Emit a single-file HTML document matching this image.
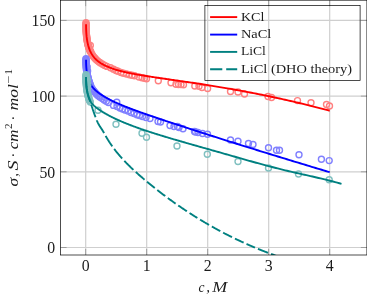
<!DOCTYPE html>
<html><head><meta charset="utf-8"><title>plot</title>
<style>
html,body{margin:0;padding:0;background:#fff;}
body{width:367px;height:300px;position:relative;overflow:hidden;font-family:"Liberation Serif",serif;}
.t{font-family:"Liberation Serif",serif;fill:#1c1c1c;}
</style></head><body>
<svg width="367" height="300" viewBox="0 0 367 300" style="position:absolute;left:0;top:0;will-change:transform;opacity:0.999">
<defs><clipPath id="cp"><rect x="60.6" y="0.2" width="306.3" height="254.8"/></clipPath></defs>
<path d="M85.70,0.2 V255.0 M146.70,0.2 V255.0 M207.70,0.2 V255.0 M268.70,0.2 V255.0 M329.70,0.2 V255.0 M60.6,247.50 H366.9 M60.6,171.80 H366.9 M60.6,96.10 H366.9 M60.6,20.40 H366.9" stroke="#cfcfcf" stroke-width="1.2" fill="none"/>
<path d="M85.70,255.0 v-6 M85.70,0.2 v6 M146.70,255.0 v-6 M146.70,0.2 v6 M207.70,255.0 v-6 M207.70,0.2 v6 M268.70,255.0 v-6 M268.70,0.2 v6 M329.70,255.0 v-6 M329.70,0.2 v6 M60.6,247.50 h6 M366.9,247.50 h-6 M60.6,171.80 h6 M366.9,171.80 h-6 M60.6,96.10 h6 M366.9,96.10 h-6 M60.6,20.40 h6 M366.9,20.40 h-6" stroke="#666" stroke-width="0.5" fill="none"/>
<g clip-path="url(#cp)">
<g fill="none" stroke="#ff8080" stroke-width="1.4">
<circle cx="86.0" cy="22.8" r="3"/><circle cx="86.0" cy="23.6" r="3"/><circle cx="86.1" cy="24.4" r="3"/><circle cx="86.1" cy="25.2" r="3"/><circle cx="86.1" cy="26.0" r="3"/><circle cx="86.1" cy="26.8" r="3"/><circle cx="86.1" cy="27.6" r="3"/><circle cx="86.1" cy="28.4" r="3"/><circle cx="86.1" cy="29.2" r="3"/><circle cx="86.2" cy="30.0" r="3"/><circle cx="86.2" cy="30.8" r="3"/><circle cx="86.2" cy="31.6" r="3"/><circle cx="86.3" cy="32.4" r="3"/><circle cx="86.3" cy="33.2" r="3"/><circle cx="86.4" cy="34.0" r="3"/><circle cx="86.5" cy="34.8" r="3"/><circle cx="86.5" cy="35.6" r="3"/><circle cx="86.6" cy="36.4" r="3"/><circle cx="86.7" cy="37.2" r="3"/><circle cx="86.8" cy="38.0" r="3"/><circle cx="86.9" cy="38.8" r="3"/><circle cx="87.0" cy="39.6" r="3"/><circle cx="87.1" cy="40.4" r="3"/><circle cx="87.3" cy="41.1" r="3"/><circle cx="87.4" cy="41.9" r="3"/><circle cx="87.6" cy="42.7" r="3"/><circle cx="87.7" cy="43.5" r="3"/><circle cx="87.9" cy="44.3" r="3"/><circle cx="88.1" cy="45.1" r="3"/><circle cx="88.3" cy="45.8" r="3"/><circle cx="88.5" cy="46.6" r="3"/><circle cx="88.8" cy="47.4" r="3"/><circle cx="89.0" cy="48.1" r="3"/><circle cx="89.3" cy="48.9" r="3"/><circle cx="89.6" cy="49.6" r="3"/><circle cx="89.9" cy="50.4" r="3"/><circle cx="90.2" cy="51.1" r="3"/><circle cx="90.9" cy="52.5" r="3"/><circle cx="91.6" cy="53.9" r="3"/><circle cx="92.5" cy="55.3" r="3"/><circle cx="93.4" cy="56.6" r="3"/><circle cx="94.5" cy="57.8" r="3"/><circle cx="95.6" cy="59.0" r="3"/><circle cx="96.7" cy="60.1" r="3"/><circle cx="97.9" cy="61.1" r="3"/><circle cx="99.2" cy="62.1" r="3"/><circle cx="100.5" cy="63.0" r="3"/><circle cx="102.6" cy="64.2" r="3"/><circle cx="104.7" cy="65.4" r="3"/><circle cx="106.9" cy="66.4" r="3"/><circle cx="90.3" cy="45.4" r="3"/><circle cx="90.6" cy="51.5" r="3"/><circle cx="110.5" cy="67.8" r="3"/><circle cx="113.5" cy="69.3" r="3"/><circle cx="116.0" cy="70.5" r="3"/><circle cx="118.0" cy="71.3" r="3"/><circle cx="121.0" cy="72.5" r="3"/><circle cx="123.5" cy="73.3" r="3"/><circle cx="126.5" cy="74.0" r="3"/><circle cx="129.5" cy="74.8" r="3"/><circle cx="132.0" cy="75.3" r="3"/><circle cx="134.5" cy="75.8" r="3"/><circle cx="139.0" cy="77.0" r="3"/><circle cx="142.0" cy="77.8" r="3"/><circle cx="144.5" cy="78.3" r="3"/><circle cx="146.5" cy="78.8" r="3"/><circle cx="158.3" cy="80.8" r="3"/><circle cx="171.0" cy="82.7" r="3"/><circle cx="176.0" cy="84.3" r="3"/><circle cx="178.5" cy="84.5" r="3"/><circle cx="181.0" cy="84.6" r="3"/><circle cx="183.5" cy="84.8" r="3"/><circle cx="194.8" cy="86.0" r="3"/><circle cx="199.0" cy="86.3" r="3"/><circle cx="202.0" cy="87.5" r="3"/><circle cx="207.6" cy="88.5" r="3"/><circle cx="230.5" cy="91.5" r="3"/><circle cx="238.0" cy="92.0" r="3"/><circle cx="244.5" cy="94.0" r="3"/><circle cx="268.0" cy="96.5" r="3"/><circle cx="271.5" cy="97.5" r="3"/><circle cx="297.5" cy="100.6" r="3"/><circle cx="311.0" cy="102.7" r="3"/><circle cx="326.5" cy="104.5" r="3"/><circle cx="329.5" cy="106.0" r="3"/>
</g>
<path d="M86.05,24.31 L86.05,25.48 L86.07,26.64 L86.09,27.77 L86.12,28.87 L86.16,29.95 L86.20,31.01 L86.26,32.05 L86.32,33.06 L86.40,34.06 L86.48,35.03 L86.57,35.98 L86.66,36.91 L86.77,37.82 L86.89,38.70 L87.01,39.57 L87.14,40.42 L87.28,41.25 L87.43,42.06 L87.59,42.86 L87.76,43.63 L87.93,44.39 L88.11,45.13 L88.31,45.85 L88.51,46.56 L88.72,47.25 L88.93,47.92 L89.16,48.58 L89.39,49.22 L89.64,49.84 L89.89,50.45 L90.15,51.05 L90.42,51.63 L90.70,52.20 L90.98,52.76 L91.28,53.30 L91.58,53.83 L91.89,54.35 L92.21,54.85 L92.54,55.34 L92.87,55.82 L93.22,56.29 L93.57,56.75 L93.94,57.20 L94.31,57.64 L94.69,58.07 L95.08,58.49 L95.47,58.89 L95.88,59.30 L96.29,59.69 L96.71,60.07 L97.14,60.45 L97.58,60.81 L98.03,61.18 L98.49,61.53 L98.95,61.88 L99.43,62.22 L99.91,62.55 L100.40,62.88 L100.90,63.21 L101.41,63.53 L101.92,63.84 L102.45,64.15 L102.98,64.45 L103.52,64.75 L104.07,65.04 L104.63,65.33 L105.20,65.61 L105.77,65.89 L106.36,66.17 L106.95,66.44 L107.55,66.70 L108.16,66.96 L108.78,67.22 L109.41,67.47 L110.04,67.72 L110.69,67.97 L111.34,68.21 L112.00,68.44 L112.67,68.68 L113.35,68.91 L114.04,69.13 L114.73,69.36 L115.44,69.58 L116.15,69.79 L116.87,70.01 L117.60,70.22 L118.34,70.42 L119.08,70.63 L119.84,70.83 L120.60,71.03 L121.37,71.23 L122.15,71.42 L122.94,71.61 L123.74,71.80 L124.55,71.99 L125.36,72.17 L126.18,72.36 L127.02,72.54 L127.86,72.72 L128.71,72.89 L129.56,73.07 L130.43,73.24 L131.30,73.41 L132.19,73.58 L133.08,73.75 L133.98,73.92 L134.89,74.09 L135.80,74.25 L136.73,74.42 L137.66,74.58 L138.61,74.75 L139.56,74.91 L140.52,75.07 L141.48,75.23 L142.46,75.39 L143.45,75.55 L144.44,75.71 L145.44,75.87 L146.45,76.03 L147.47,76.19 L148.50,76.35 L149.54,76.52 L150.58,76.68 L151.64,76.84 L152.70,77.00 L153.77,77.16 L154.85,77.32 L155.94,77.48 L157.03,77.64 L158.14,77.81 L159.25,77.97 L160.37,78.13 L161.50,78.30 L162.64,78.47 L163.79,78.63 L164.94,78.80 L166.11,78.97 L167.28,79.14 L168.46,79.31 L169.65,79.48 L170.85,79.65 L172.06,79.82 L173.28,80.00 L174.50,80.18 L175.73,80.35 L176.97,80.53 L178.22,80.71 L179.48,80.89 L180.75,81.08 L182.02,81.26 L183.31,81.45 L184.60,81.64 L185.90,81.83 L187.21,82.02 L188.53,82.21 L189.86,82.41 L191.19,82.61 L192.53,82.81 L193.89,83.01 L195.25,83.21 L196.62,83.42 L197.99,83.63 L199.38,83.84 L200.78,84.05 L202.18,84.27 L203.59,84.49 L205.01,84.71 L206.44,84.93 L207.88,85.16 L209.32,85.39 L210.78,85.62 L212.24,85.85 L213.71,86.09 L215.19,86.33 L216.68,86.57 L218.18,86.82 L219.68,87.07 L221.20,87.32 L222.72,87.58 L224.25,87.83 L225.79,88.10 L227.34,88.36 L228.90,88.63 L230.46,88.90 L232.04,89.18 L233.62,89.46 L235.21,89.74 L236.81,90.03 L238.42,90.32 L240.03,90.61 L241.66,90.91 L243.29,91.21 L244.94,91.51 L246.59,91.82 L248.25,92.14 L249.91,92.46 L251.59,92.78 L253.27,93.10 L254.97,93.43 L256.67,93.77 L258.38,94.11 L260.10,94.45 L261.83,94.80 L263.56,95.15 L265.31,95.51 L267.06,95.87 L268.82,96.23 L270.59,96.61 L272.37,96.98 L274.16,97.36 L275.95,97.75 L277.76,98.14 L279.57,98.53 L281.39,98.93 L283.22,99.34 L285.06,99.75 L286.91,100.17 L288.76,100.59 L290.63,101.01 L292.50,101.45 L294.38,101.88 L296.27,102.33 L298.17,102.77 L300.08,103.23 L301.99,103.69 L303.92,104.15 L305.85,104.63 L307.79,105.10 L309.74,105.59 L311.70,106.07 L313.66,106.57 L315.64,107.07 L317.62,107.58 L319.61,108.09 L321.61,108.61 L323.62,109.13 L325.64,109.67 L327.67,110.20 L329.70,110.75" stroke="#ff0000" stroke-width="1.9" fill="none" stroke-linejoin="round"/>
<g fill="none" stroke="#8080ff" stroke-width="1.4">
<circle cx="86.0" cy="58.7" r="3"/><circle cx="86.0" cy="59.5" r="3"/><circle cx="86.1" cy="60.3" r="3"/><circle cx="86.1" cy="61.1" r="3"/><circle cx="86.1" cy="61.9" r="3"/><circle cx="86.1" cy="62.7" r="3"/><circle cx="86.1" cy="63.5" r="3"/><circle cx="86.1" cy="64.3" r="3"/><circle cx="86.2" cy="65.1" r="3"/><circle cx="86.2" cy="65.9" r="3"/><circle cx="86.3" cy="66.7" r="3"/><circle cx="86.3" cy="67.5" r="3"/><circle cx="86.4" cy="68.3" r="3"/><circle cx="86.4" cy="69.1" r="3"/><circle cx="86.5" cy="69.9" r="3"/><circle cx="86.6" cy="70.7" r="3"/><circle cx="86.7" cy="71.5" r="3"/><circle cx="86.8" cy="72.3" r="3"/><circle cx="87.0" cy="73.1" r="3"/><circle cx="87.1" cy="73.9" r="3"/><circle cx="87.2" cy="74.6" r="3"/><circle cx="87.4" cy="75.4" r="3"/><circle cx="87.6" cy="76.2" r="3"/><circle cx="87.8" cy="77.0" r="3"/><circle cx="88.0" cy="77.7" r="3"/><circle cx="88.2" cy="78.6" r="3"/><circle cx="88.4" cy="79.5" r="3"/><circle cx="88.7" cy="80.4" r="3"/><circle cx="89.0" cy="81.3" r="3"/><circle cx="89.3" cy="82.2" r="3"/><circle cx="89.6" cy="83.1" r="3"/><circle cx="90.0" cy="84.0" r="3"/><circle cx="90.3" cy="84.9" r="3"/><circle cx="91.1" cy="86.6" r="3"/><circle cx="92.0" cy="88.4" r="3"/><circle cx="93.0" cy="89.9" r="3"/><circle cx="94.1" cy="91.3" r="3"/><circle cx="95.2" cy="92.6" r="3"/><circle cx="96.4" cy="93.9" r="3"/><circle cx="97.6" cy="95.2" r="3"/><circle cx="98.9" cy="96.3" r="3"/><circle cx="100.2" cy="97.3" r="3"/><circle cx="102.2" cy="98.6" r="3"/><circle cx="104.2" cy="100.0" r="3"/><circle cx="106.3" cy="101.2" r="3"/><circle cx="108.4" cy="102.5" r="3"/><circle cx="87.2" cy="67.0" r="3"/><circle cx="87.6" cy="71.0" r="3"/><circle cx="116.8" cy="102.2" r="3"/><circle cx="113.5" cy="105.4" r="3"/><circle cx="117.0" cy="106.5" r="3"/><circle cx="120.0" cy="108.0" r="3"/><circle cx="122.5" cy="109.0" r="3"/><circle cx="125.0" cy="110.0" r="3"/><circle cx="128.0" cy="111.0" r="3"/><circle cx="131.0" cy="112.5" r="3"/><circle cx="134.0" cy="113.5" r="3"/><circle cx="137.0" cy="114.8" r="3"/><circle cx="139.5" cy="115.5" r="3"/><circle cx="142.5" cy="116.5" r="3"/><circle cx="146.0" cy="117.5" r="3"/><circle cx="150.0" cy="118.5" r="3"/><circle cx="158.0" cy="121.5" r="3"/><circle cx="160.5" cy="122.0" r="3"/><circle cx="170.0" cy="125.5" r="3"/><circle cx="174.0" cy="126.5" r="3"/><circle cx="177.5" cy="126.5" r="3"/><circle cx="179.0" cy="127.5" r="3"/><circle cx="183.0" cy="128.8" r="3"/><circle cx="194.5" cy="131.5" r="3"/><circle cx="195.5" cy="132.0" r="3"/><circle cx="198.0" cy="132.5" r="3"/><circle cx="202.5" cy="133.5" r="3"/><circle cx="207.5" cy="134.2" r="3"/><circle cx="230.5" cy="140.0" r="3"/><circle cx="238.0" cy="141.3" r="3"/><circle cx="248.5" cy="143.5" r="3"/><circle cx="253.0" cy="144.5" r="3"/><circle cx="268.5" cy="147.8" r="3"/><circle cx="276.5" cy="150.3" r="3"/><circle cx="279.5" cy="150.3" r="3"/><circle cx="299.0" cy="154.7" r="3"/><circle cx="321.4" cy="159.3" r="3"/><circle cx="329.2" cy="160.6" r="3"/>
</g>
<path d="M86.05,59.81 L86.05,60.87 L86.07,61.91 L86.09,62.92 L86.12,63.91 L86.16,64.88 L86.20,65.83 L86.26,66.75 L86.32,67.65 L86.40,68.54 L86.48,69.39 L86.57,70.23 L86.66,71.05 L86.77,71.85 L86.89,72.63 L87.01,73.39 L87.14,74.14 L87.28,74.86 L87.43,75.57 L87.59,76.26 L87.76,76.93 L87.93,77.59 L88.11,78.23 L88.31,78.86 L88.51,79.47 L88.72,80.06 L88.93,80.64 L89.16,81.21 L89.39,81.76 L89.64,82.30 L89.89,82.83 L90.15,83.35 L90.42,83.85 L90.70,84.34 L90.98,84.83 L91.28,85.30 L91.58,85.76 L91.89,86.21 L92.21,86.65 L92.54,87.08 L92.87,87.50 L93.22,87.92 L93.57,88.33 L93.94,88.73 L94.31,89.12 L94.69,89.51 L95.08,89.89 L95.47,90.26 L95.88,90.63 L96.29,91.00 L96.71,91.36 L97.14,91.71 L97.58,92.06 L98.03,92.41 L98.49,92.76 L98.95,93.10 L99.43,93.45 L99.91,93.79 L100.40,94.12 L100.90,94.46 L101.41,94.80 L101.92,95.13 L102.45,95.47 L102.98,95.80 L103.52,96.14 L104.07,96.47 L104.63,96.80 L105.20,97.13 L105.77,97.46 L106.36,97.79 L106.95,98.12 L107.55,98.45 L108.16,98.77 L108.78,99.10 L109.41,99.43 L110.04,99.75 L110.69,100.08 L111.34,100.40 L112.00,100.73 L112.67,101.05 L113.35,101.38 L114.04,101.70 L114.73,102.03 L115.44,102.35 L116.15,102.68 L116.87,103.00 L117.60,103.33 L118.34,103.65 L119.08,103.98 L119.84,104.30 L120.60,104.63 L121.37,104.95 L122.15,105.28 L122.94,105.61 L123.74,105.93 L124.55,106.26 L125.36,106.59 L126.18,106.92 L127.02,107.25 L127.86,107.58 L128.71,107.91 L129.56,108.24 L130.43,108.57 L131.30,108.90 L132.19,109.24 L133.08,109.57 L133.98,109.91 L134.89,110.24 L135.80,110.58 L136.73,110.92 L137.66,111.26 L138.61,111.60 L139.56,111.94 L140.52,112.29 L141.48,112.63 L142.46,112.98 L143.45,113.33 L144.44,113.67 L145.44,114.02 L146.45,114.38 L147.47,114.73 L148.50,115.09 L149.54,115.44 L150.58,115.80 L151.64,116.16 L152.70,116.52 L153.77,116.89 L154.85,117.25 L155.94,117.62 L157.03,117.99 L158.14,118.36 L159.25,118.74 L160.37,119.11 L161.50,119.49 L162.64,119.87 L163.79,120.25 L164.94,120.64 L166.11,121.03 L167.28,121.42 L168.46,121.81 L169.65,122.20 L170.85,122.60 L172.06,123.00 L173.28,123.40 L174.50,123.80 L175.73,124.21 L176.97,124.61 L178.22,125.02 L179.48,125.44 L180.75,125.85 L182.02,126.27 L183.31,126.69 L184.60,127.11 L185.90,127.53 L187.21,127.96 L188.53,128.39 L189.86,128.82 L191.19,129.25 L192.53,129.69 L193.89,130.13 L195.25,130.56 L196.62,131.01 L197.99,131.45 L199.38,131.90 L200.78,132.35 L202.18,132.80 L203.59,133.25 L205.01,133.71 L206.44,134.16 L207.88,134.62 L209.32,135.09 L210.78,135.55 L212.24,136.02 L213.71,136.49 L215.19,136.96 L216.68,137.43 L218.18,137.91 L219.68,138.38 L221.20,138.86 L222.72,139.35 L224.25,139.83 L225.79,140.32 L227.34,140.81 L228.90,141.30 L230.46,141.79 L232.04,142.28 L233.62,142.78 L235.21,143.28 L236.81,143.78 L238.42,144.29 L240.03,144.79 L241.66,145.30 L243.29,145.81 L244.94,146.33 L246.59,146.84 L248.25,147.36 L249.91,147.88 L251.59,148.40 L253.27,148.92 L254.97,149.45 L256.67,149.97 L258.38,150.50 L260.10,151.04 L261.83,151.57 L263.56,152.11 L265.31,152.65 L267.06,153.19 L268.82,153.73 L270.59,154.27 L272.37,154.82 L274.16,155.37 L275.95,155.92 L277.76,156.47 L279.57,157.03 L281.39,157.59 L283.22,158.15 L285.06,158.71 L286.91,159.27 L288.76,159.84 L290.63,160.41 L292.50,160.98 L294.38,161.55 L296.27,162.12 L298.17,162.70 L300.08,163.28 L301.99,163.86 L303.92,164.44 L305.85,165.03 L307.79,165.61 L309.74,166.20 L311.70,166.79 L313.66,167.39 L315.64,167.98 L317.62,168.58 L319.61,169.18 L321.61,169.78 L323.62,170.38 L325.64,170.99 L327.67,171.59 L329.70,172.20" stroke="#0000ff" stroke-width="1.9" fill="none" stroke-linejoin="round"/>
<g fill="none" stroke="#80c0c0" stroke-width="1.4">
<circle cx="86.0" cy="74.8" r="3"/><circle cx="86.0" cy="75.6" r="3"/><circle cx="86.0" cy="76.4" r="3"/><circle cx="86.1" cy="77.2" r="3"/><circle cx="86.1" cy="78.0" r="3"/><circle cx="86.1" cy="78.8" r="3"/><circle cx="86.1" cy="79.6" r="3"/><circle cx="86.1" cy="80.4" r="3"/><circle cx="86.1" cy="81.2" r="3"/><circle cx="86.2" cy="82.0" r="3"/><circle cx="86.2" cy="82.8" r="3"/><circle cx="86.3" cy="83.6" r="3"/><circle cx="86.3" cy="84.4" r="3"/><circle cx="86.4" cy="85.2" r="3"/><circle cx="86.5" cy="86.0" r="3"/><circle cx="86.5" cy="86.8" r="3"/><circle cx="86.6" cy="87.6" r="3"/><circle cx="86.7" cy="88.4" r="3"/><circle cx="86.8" cy="89.2" r="3"/><circle cx="86.9" cy="90.0" r="3"/><circle cx="87.1" cy="90.7" r="3"/><circle cx="87.2" cy="91.5" r="3"/><circle cx="87.3" cy="92.3" r="3"/><circle cx="87.5" cy="93.1" r="3"/><circle cx="87.7" cy="93.9" r="3"/><circle cx="87.9" cy="94.7" r="3"/><circle cx="88.0" cy="95.4" r="3"/><circle cx="88.2" cy="96.2" r="3"/><circle cx="88.4" cy="97.0" r="3"/><circle cx="88.6" cy="97.7" r="3"/><circle cx="88.8" cy="98.5" r="3"/><circle cx="89.0" cy="99.2" r="3"/><circle cx="89.3" cy="99.9" r="3"/><circle cx="89.6" cy="100.6" r="3"/><circle cx="90.3" cy="102.0" r="3"/><circle cx="87.4" cy="80.0" r="3"/><circle cx="87.9" cy="84.8" r="3"/><circle cx="98.0" cy="110.3" r="3"/><circle cx="116.0" cy="124.2" r="3"/><circle cx="142.0" cy="133.2" r="3"/><circle cx="146.5" cy="137.3" r="3"/><circle cx="177.0" cy="146.0" r="3"/><circle cx="207.3" cy="154.3" r="3"/><circle cx="238.0" cy="161.5" r="3"/><circle cx="268.5" cy="168.0" r="3"/><circle cx="298.5" cy="174.0" r="3"/><circle cx="329.2" cy="179.7" r="3"/>
</g>
<path d="M86.05,77.00 L86.05,77.89 L86.07,78.80 L86.09,79.73 L86.12,80.68 L86.16,81.63 L86.21,82.59 L86.27,83.54 L86.34,84.50 L86.41,85.44 L86.50,86.38 L86.59,87.29 L86.69,88.19 L86.81,89.07 L86.93,89.92 L87.06,90.75 L87.19,91.57 L87.34,92.36 L87.50,93.13 L87.66,93.87 L87.84,94.60 L88.02,95.30 L88.21,95.97 L88.42,96.63 L88.63,97.26 L88.85,97.87 L89.07,98.45 L89.31,99.02 L89.56,99.56 L89.81,100.09 L90.07,100.59 L90.35,101.08 L90.63,101.55 L90.92,102.01 L91.22,102.45 L91.53,102.88 L91.85,103.30 L92.17,103.70 L92.51,104.09 L92.85,104.48 L93.21,104.85 L93.57,105.22 L93.94,105.58 L94.32,105.93 L94.71,106.28 L95.11,106.62 L95.51,106.96 L95.93,107.30 L96.35,107.63 L96.79,107.97 L97.23,108.30 L97.68,108.64 L98.14,108.97 L98.61,109.31 L99.09,109.65 L99.58,109.98 L100.07,110.32 L100.58,110.66 L101.09,110.99 L101.62,111.33 L102.15,111.67 L102.69,112.00 L103.24,112.34 L103.80,112.68 L104.37,113.01 L104.94,113.35 L105.53,113.69 L106.13,114.03 L106.73,114.37 L107.34,114.70 L107.96,115.04 L108.59,115.38 L109.23,115.72 L109.88,116.06 L110.54,116.40 L111.21,116.74 L111.88,117.08 L112.56,117.41 L113.26,117.75 L113.96,118.09 L114.67,118.43 L115.39,118.77 L116.12,119.11 L116.86,119.45 L117.61,119.79 L118.36,120.14 L119.13,120.48 L119.90,120.82 L120.68,121.16 L121.47,121.50 L122.27,121.84 L123.08,122.18 L123.90,122.52 L124.73,122.87 L125.57,123.21 L126.41,123.55 L127.26,123.89 L128.13,124.23 L129.00,124.58 L129.88,124.92 L130.77,125.26 L131.67,125.61 L132.58,125.95 L133.49,126.29 L134.42,126.64 L135.35,126.98 L136.30,127.32 L137.25,127.67 L138.21,128.01 L139.18,128.35 L140.16,128.70 L141.15,129.04 L142.15,129.39 L143.15,129.73 L144.17,130.08 L145.19,130.42 L146.23,130.77 L147.27,131.11 L148.32,131.46 L149.38,131.81 L150.45,132.16 L151.53,132.50 L152.61,132.85 L153.71,133.20 L154.81,133.55 L155.93,133.90 L157.05,134.26 L158.18,134.61 L159.32,134.96 L160.47,135.32 L161.63,135.67 L162.80,136.03 L163.97,136.38 L165.16,136.74 L166.35,137.10 L167.55,137.46 L168.77,137.83 L169.99,138.19 L171.22,138.55 L172.46,138.92 L173.70,139.29 L174.96,139.65 L176.23,140.02 L177.50,140.40 L178.78,140.77 L180.08,141.14 L181.38,141.52 L182.69,141.90 L184.01,142.28 L185.33,142.66 L186.67,143.04 L188.02,143.43 L189.37,143.82 L190.74,144.21 L192.11,144.60 L193.49,144.99 L194.88,145.39 L196.28,145.78 L197.69,146.18 L199.11,146.58 L200.54,146.99 L201.97,147.39 L203.42,147.80 L204.87,148.21 L206.33,148.63 L207.80,149.04 L209.28,149.46 L210.77,149.88 L212.27,150.30 L213.78,150.73 L215.29,151.16 L216.82,151.59 L218.35,152.02 L219.90,152.46 L221.45,152.90 L223.01,153.34 L224.58,153.79 L226.16,154.24 L227.74,154.69 L229.34,155.14 L230.95,155.60 L232.56,156.06 L234.18,156.53 L235.82,156.99 L237.46,157.46 L239.11,157.93 L240.77,158.40 L242.43,158.88 L244.11,159.35 L245.80,159.83 L247.49,160.31 L249.20,160.79 L250.91,161.27 L252.63,161.75 L254.36,162.23 L256.10,162.72 L257.85,163.20 L259.61,163.68 L261.37,164.16 L263.15,164.64 L264.93,165.12 L266.73,165.60 L268.53,166.08 L270.34,166.56 L272.16,167.03 L273.99,167.50 L275.83,167.98 L277.67,168.44 L279.53,168.91 L281.40,169.38 L283.27,169.84 L285.15,170.30 L287.04,170.75 L288.94,171.21 L290.85,171.65 L292.77,172.10 L294.70,172.54 L296.64,172.99 L298.58,173.43 L300.54,173.87 L302.50,174.31 L304.47,174.75 L306.45,175.19 L308.44,175.64 L310.44,176.09 L312.45,176.55 L314.47,177.01 L316.49,177.48 L318.53,177.95 L320.57,178.44 L322.62,178.93 L324.68,179.43 L326.76,179.94 L328.84,180.46 L330.92,180.99 L333.02,181.53 L335.13,182.09 L337.24,182.66 L339.37,183.25 L341.50,183.85" stroke="#008080" stroke-width="1.9" fill="none" stroke-linejoin="round"/>
<path d="M86.05,77.00 L86.05,77.40 L86.05,77.80 L86.05,78.20 L86.06,78.60 L86.06,79.00 L86.07,79.40 L86.07,79.80 L86.08,80.20 L86.09,80.60 L86.10,81.00 L86.11,81.40 L86.12,81.80 L86.14,82.20 L86.16,82.60 L86.17,83.01 L86.19,83.41 L86.21,83.81 L86.24,84.21 L86.26,84.61 L86.29,85.00 L86.32,85.40 L86.36,85.80 L86.39,86.20 L86.43,86.60 L86.48,87.00 L86.52,87.40 L86.57,87.79 L86.62,88.19 L86.68,88.59 L86.74,88.98 L86.81,89.38 L86.87,89.77 L86.95,90.17 L87.02,90.56 L87.11,90.95 L87.19,91.35 L87.28,91.74 L87.37,92.13 L87.47,92.51 L87.57,92.90 L87.68,93.29 L87.78,93.67 L87.90,94.06 L88.01,94.44 L88.12,94.83 L88.24,95.21 L88.36,95.59 L88.48,95.97 L88.60,96.36 L88.73,96.74 L88.85,97.12 L88.98,97.50 L89.10,97.88 L89.22,98.26 L89.35,98.64 L89.47,99.02 L89.59,99.40 L89.72,99.79 L89.84,100.17 L89.96,100.55 L90.08,100.93 L90.21,101.31 L90.33,101.69 M91.30,104.75 L91.42,105.13 L91.54,105.51 L91.66,105.89 L91.79,106.27 L91.91,106.66 L92.03,107.04 L92.16,107.42 L92.28,107.80 L92.40,108.18 L92.53,108.56 L92.65,108.94 L92.78,109.32 L92.91,109.70 L93.03,110.08 L93.16,110.46 L93.29,110.84 L93.41,111.22 L93.54,111.60 L93.67,111.98 L93.80,112.36 L93.93,112.74 L94.06,113.12 L94.19,113.49 L94.33,113.87 L94.46,114.25 L94.59,114.63 L94.73,115.01 L94.86,115.38 L95.00,115.76 L95.14,116.14 L95.27,116.51 L95.41,116.89 L95.55,117.26 M96.72,120.25 L96.87,120.62 L97.03,120.99 L97.19,121.35 L97.36,121.72 L97.52,122.08 L97.69,122.45 L97.86,122.81 L98.04,123.17 L98.22,123.52 L98.41,123.88 L98.60,124.23 L98.79,124.58 L99.00,124.93 L99.20,125.27 L99.41,125.62 L99.62,125.96 L99.83,126.29 L100.05,126.63 L100.27,126.97 L100.49,127.30 L100.71,127.63 L100.94,127.97 L101.16,128.30 L101.38,128.63 L101.60,128.97 L101.82,129.30 L102.04,129.64 L102.25,129.98 L102.47,130.32 L102.68,130.66 L102.89,131.00 L103.09,131.34 L103.29,131.69 L103.49,132.04 L103.69,132.39 L103.88,132.74 L104.07,133.09 M105.62,135.89 L105.82,136.24 L106.02,136.59 L106.22,136.94 L106.42,137.28 L106.63,137.63 L106.83,137.97 L107.04,138.32 L107.24,138.66 L107.45,139.00 L107.66,139.34 L107.87,139.68 L108.08,140.03 L108.29,140.36 L108.51,140.70 L108.72,141.04 L108.94,141.38 L109.15,141.72 L109.37,142.05 L109.59,142.39 L109.81,142.72 L110.03,143.06 L110.26,143.39 L110.48,143.72 L110.70,144.05 L110.93,144.38 L111.16,144.71 L111.39,145.04 L111.62,145.37 L111.85,145.70 L112.08,146.03 L112.31,146.35 M114.21,148.93 L114.45,149.25 L114.69,149.57 L114.94,149.89 L115.18,150.21 L115.43,150.52 L115.67,150.84 L115.92,151.15 L116.17,151.47 L116.42,151.78 L116.67,152.09 L116.92,152.41 L117.18,152.72 L117.43,153.03 L117.68,153.34 L117.94,153.65 L118.19,153.95 L118.45,154.26 L118.71,154.57 L118.97,154.87 L119.23,155.18 L119.49,155.48 L119.75,155.79 L120.01,156.09 L120.27,156.39 L120.54,156.69 L120.80,156.99 L121.07,157.29 L121.34,157.59 L121.60,157.89 L121.87,158.19 L122.14,158.49 M124.31,160.84 L124.59,161.13 L124.87,161.42 L125.14,161.71 L125.42,162.00 L125.70,162.29 L125.98,162.58 L126.25,162.86 L126.53,163.15 L126.81,163.44 L127.10,163.72 L127.38,164.01 L127.66,164.29 L127.94,164.57 L128.23,164.86 L128.51,165.14 L128.80,165.42 L129.08,165.70 L129.37,165.98 L129.65,166.26 L129.94,166.54 L130.23,166.82 L130.52,167.10 L130.81,167.38 L131.09,167.66 L131.38,167.93 L131.67,168.21 L131.97,168.48 L132.26,168.76 L132.55,169.03 L132.84,169.31 L133.13,169.58 L133.43,169.85 M135.79,172.02 L136.08,172.29 L136.38,172.56 L136.68,172.83 L136.98,173.09 L137.28,173.36 L137.58,173.63 L137.88,173.89 L138.18,174.16 L138.48,174.42 L138.78,174.69 L139.08,174.95 L139.38,175.22 L139.68,175.48 L139.98,175.75 L140.28,176.01 L140.59,176.27 L140.89,176.53 L141.19,176.80 L141.50,177.06 L141.80,177.32 L142.10,177.58 L142.41,177.84 L142.71,178.10 L143.02,178.36 L143.32,178.62 L143.63,178.88 L143.93,179.14 L144.24,179.40 L144.55,179.65 M147.00,181.71 L147.31,181.97 L147.62,182.22 L147.93,182.48 L148.24,182.73 L148.55,182.99 L148.86,183.24 L149.17,183.49 L149.48,183.75 L149.79,184.00 L150.10,184.26 L150.41,184.51 L150.72,184.76 L151.03,185.01 L151.34,185.27 L151.65,185.52 L151.97,185.77 L152.28,186.02 L152.59,186.27 L152.90,186.52 L153.21,186.77 L153.53,187.02 L153.84,187.27 L154.15,187.52 L154.47,187.77 L154.78,188.02 M157.30,190.01 L157.61,190.25 L157.93,190.50 L158.24,190.75 L158.56,190.99 L158.88,191.24 L159.19,191.48 L159.51,191.73 L159.83,191.97 L160.15,192.22 L160.46,192.46 L160.78,192.71 L161.10,192.95 L161.42,193.19 L161.74,193.44 L162.05,193.68 L162.37,193.92 L162.69,194.16 L163.01,194.41 L163.33,194.65 L163.65,194.89 L163.97,195.13 L164.29,195.37 L164.61,195.61 L164.93,195.85 L165.25,196.09 M167.83,198.00 L168.15,198.24 L168.47,198.48 L168.80,198.71 L169.12,198.95 L169.44,199.18 L169.77,199.42 L170.09,199.66 L170.41,199.89 L170.74,200.13 L171.06,200.36 L171.39,200.60 L171.71,200.83 L172.04,201.06 L172.36,201.30 L172.69,201.53 L173.02,201.76 L173.34,202.00 L173.67,202.23 L173.99,202.46 L174.32,202.69 L174.65,202.92 L174.98,203.16 L175.30,203.39 L175.63,203.62 M178.26,205.45 L178.59,205.68 L178.92,205.91 L179.25,206.13 L179.58,206.36 L179.91,206.59 L180.24,206.81 L180.57,207.04 L180.90,207.27 L181.23,207.49 L181.56,207.72 L181.89,207.94 L182.23,208.17 L182.56,208.39 L182.89,208.62 L183.22,208.84 L183.56,209.06 L183.89,209.29 L184.22,209.51 L184.55,209.73 L184.89,209.95 L185.22,210.17 L185.55,210.40 L185.89,210.62 L186.22,210.84 L186.56,211.06 L186.89,211.28 M189.58,213.03 L189.91,213.25 L190.25,213.47 L190.59,213.68 L190.92,213.90 L191.26,214.12 L191.60,214.33 L191.94,214.55 L192.27,214.76 L192.61,214.98 L192.95,215.19 L193.29,215.41 L193.63,215.62 L193.97,215.83 L194.30,216.05 L194.64,216.26 L194.98,216.47 L195.32,216.69 L195.66,216.90 L196.00,217.11 L196.34,217.32 L196.68,217.53 L197.02,217.74 L197.36,217.95 M200.10,219.63 L200.44,219.84 L200.78,220.04 L201.13,220.25 L201.47,220.46 L201.81,220.66 L202.16,220.87 L202.50,221.07 L202.84,221.28 L203.19,221.49 L203.53,221.69 L203.88,221.89 L204.22,222.10 L204.57,222.30 L204.91,222.51 L205.26,222.71 L205.60,222.91 L205.95,223.11 L206.29,223.32 L206.64,223.52 L206.99,223.72 L207.33,223.92 L207.68,224.12 L208.03,224.32 L208.37,224.52 L208.72,224.72 L209.07,224.92 M211.85,226.51 L212.20,226.70 L212.55,226.90 L212.90,227.10 L213.25,227.29 L213.60,227.49 L213.95,227.68 L214.30,227.88 L214.65,228.07 L215.00,228.26 L215.35,228.46 L215.70,228.65 L216.05,228.84 L216.41,229.04 L216.76,229.23 L217.11,229.42 L217.46,229.61 L217.81,229.80 L218.17,229.99 L218.52,230.18 L218.87,230.37 L219.22,230.56 L219.58,230.75 L219.93,230.94 L220.28,231.13 M223.12,232.63 L223.47,232.82 L223.83,233.00 L224.18,233.19 L224.54,233.37 L224.89,233.56 L225.25,233.74 L225.60,233.92 L225.96,234.11 L226.32,234.29 L226.67,234.47 L227.03,234.65 L227.39,234.84 L227.74,235.02 L228.10,235.20 L228.46,235.38 L228.82,235.56 L229.17,235.74 L229.53,235.92 L229.89,236.10 L230.25,236.28 L230.61,236.46 L230.97,236.64 L231.32,236.81 L231.68,236.99 L232.04,237.17 M234.92,238.58 L235.28,238.75 L235.64,238.92 L236.01,239.10 L236.37,239.27 L236.73,239.44 L237.09,239.62 L237.45,239.79 L237.81,239.96 L238.18,240.13 L238.54,240.30 L238.90,240.47 L239.26,240.64 L239.63,240.81 L239.99,240.98 L240.35,241.15 L240.72,241.32 L241.08,241.49 L241.44,241.66 L241.81,241.83 L242.17,241.99 L242.53,242.16 L242.90,242.33 L243.26,242.49 L243.63,242.66 M246.55,243.98 L246.92,244.14 L247.28,244.30 L247.65,244.46 L248.02,244.62 L248.38,244.79 L248.75,244.95 L249.12,245.11 L249.48,245.27 L249.85,245.43 L250.22,245.59 L250.59,245.75 L250.95,245.90 L251.32,246.06 L251.69,246.22 L252.06,246.38 L252.43,246.54 L252.79,246.69 L253.16,246.85 L253.53,247.01 L253.90,247.16 L254.27,247.32 L254.64,247.47 L255.01,247.63 M257.97,248.85 L258.34,249.00 L258.71,249.15 L259.08,249.30 L259.46,249.46 L259.83,249.61 L260.20,249.75 L260.57,249.90 L260.94,250.05 L261.31,250.20 L261.69,250.35 L262.06,250.50 L262.43,250.64 L262.80,250.79 L263.18,250.94 L263.55,251.08 L263.92,251.23 L264.30,251.38 L264.67,251.52 L265.04,251.66 L265.42,251.81 L265.79,251.95 L266.17,252.10 L266.54,252.24 L266.91,252.38 L267.29,252.53 L267.66,252.67 L268.04,252.81 M271.04,253.93 L271.42,254.07 L271.79,254.20 L272.17,254.34 L272.55,254.48 L272.92,254.62 L273.30,254.75 L273.68,254.89 L274.05,255.02 L274.43,255.16 L274.81,255.29 L275.18,255.43 L275.56,255.56 L275.94,255.70 L276.32,255.83 L276.70,255.96 L277.07,256.10 L277.45,256.23 L277.83,256.36 L278.21,256.49 L278.59,256.62 L278.97,256.75 L279.34,256.88 L279.72,257.01 L280.10,257.14 L280.48,257.27" stroke="#008080" stroke-width="1.9" fill="none"/>
</g>
<rect x="60.6" y="0.2" width="306.3" height="254.8" fill="none" stroke="#000" stroke-width="0.7"/>
<rect x="204.9" y="5.4" width="155.2" height="75" fill="none" stroke="#000" stroke-width="0.7"/>
<path d="M210.1,17.1 H237.2" stroke="#ff0000" stroke-width="1.9"/>
<text x="240.9" y="20.9" font-size="12.4" class="t" textLength="23.4" lengthAdjust="spacingAndGlyphs">KCl</text>
<path d="M210.1,34.6 H237.2" stroke="#0000ff" stroke-width="1.9"/>
<text x="240.9" y="37.9" font-size="12.4" class="t" textLength="30.4" lengthAdjust="spacingAndGlyphs">NaCl</text>
<path d="M210.1,51.9 H237.2" stroke="#008080" stroke-width="1.9"/>
<text x="240.9" y="55.1" font-size="12.4" class="t" textLength="25.0" lengthAdjust="spacingAndGlyphs">LiCl</text>
<path d="M210.1,69.2 H237.2" stroke="#008080" stroke-width="1.9" stroke-dasharray="12.2 3.9"/>
<text x="240.9" y="72.7" font-size="12.4" class="t" textLength="111.2" lengthAdjust="spacingAndGlyphs">LiCl (DHO theory)</text>
<text x="85.7" y="270.5" font-size="15.8" text-anchor="middle" class="t">0</text>
<text x="146.7" y="270.5" font-size="15.8" text-anchor="middle" class="t">1</text>
<text x="207.7" y="270.5" font-size="15.8" text-anchor="middle" class="t">2</text>
<text x="268.7" y="270.5" font-size="15.8" text-anchor="middle" class="t">3</text>
<text x="329.7" y="270.5" font-size="15.8" text-anchor="middle" class="t">4</text>
<text x="55.2" y="253.4" font-size="15.8" text-anchor="end" class="t">0</text>
<text x="55.2" y="177.7" font-size="15.8" text-anchor="end" class="t">50</text>
<text x="55.2" y="102.0" font-size="15.8" text-anchor="end" class="t">100</text>
<text x="55.2" y="26.3" font-size="15.8" text-anchor="end" class="t">150</text>
<g font-size="15.2" class="t" font-style="italic">
<text x="198.5" y="291.6" textLength="6" lengthAdjust="spacingAndGlyphs">c</text>
<text x="206.2" y="291.6">,</text>
<text x="212.3" y="291.6" textLength="15" lengthAdjust="spacingAndGlyphs">M</text>
</g>
<g transform="translate(18,186.8) rotate(-90)" class="t" font-size="15.2" font-style="italic">
<text x="0.3" y="0" textLength="8.6" lengthAdjust="spacingAndGlyphs">σ</text>
<text x="10" y="0">,</text>
<text x="16.3" y="0" textLength="10" lengthAdjust="spacingAndGlyphs">S</text>
<text x="31.5" y="0" text-anchor="middle">·</text>
<text x="37.6" y="0" textLength="19.6" lengthAdjust="spacingAndGlyphs">cm</text>
<text x="68.5" y="0" text-anchor="middle">·</text>
<text x="76.3" y="0" textLength="26.4" lengthAdjust="spacingAndGlyphs">mol</text>
<text x="57.8" y="-6.1" font-size="10.6" font-style="normal" textLength="5.6" lengthAdjust="spacingAndGlyphs">2</text>
<text x="103.2" y="-5.8" font-size="10.6" font-style="normal" textLength="8.2" lengthAdjust="spacingAndGlyphs">−</text>
<text x="112.2" y="-5.8" font-size="10.6" font-style="normal">1</text>
</g>
</svg>
</body></html>
